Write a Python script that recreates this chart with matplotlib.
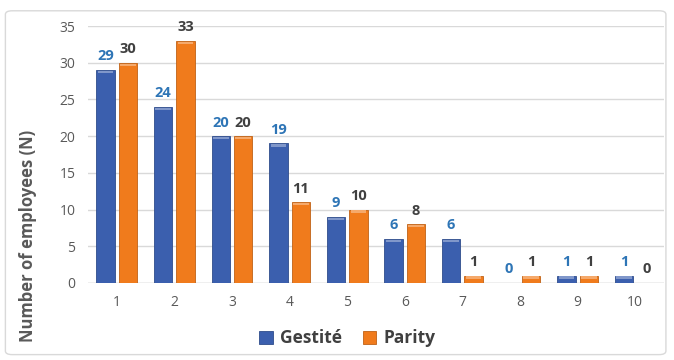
import matplotlib
matplotlib.use("Agg")
import matplotlib.pyplot as plt
import numpy as np
from matplotlib.patches import FancyBboxPatch, Rectangle
from matplotlib.colors import to_rgb

categories = ["1", "2", "3", "4", "5", "6", "7", "8", "9", "10"]
gestite = [29, 24, 20, 19, 9, 6, 6, 0, 1, 1]
parity = [30, 33, 20, 11, 10, 8, 1, 1, 1, 0]
series_names = ["Gestité", "Parity"]
yticks = [0, 5, 10, 15, 20, 25, 30, 35]

blue = "#3B5FAE"
orange = "#F07B1C"
blue_lbl = "#2E75B6"
dark_lbl = "#404040"

plt.rcParams["font.family"] = ["Open Sans", "DejaVu Sans"]

fig = plt.figure(figsize=(6.74, 3.6), dpi=100)
ax = fig.add_axes([88 / 674, 1 - 283 / 360, (664 - 88) / 674, (283 - 26) / 360])

x = np.arange(len(categories))
w = 0.32
off = 0.195


def lighten(c, f):
    r, g, b = to_rgb(c)
    return (r + (1 - r) * f, g + (1 - g) * f, b + (1 - b) * f)


def darken(c, f):
    r, g, b = to_rgb(c)
    return (r * f, g * f, b * f)


def draw_series(xs, vals, color):
    bars = ax.bar(xs, vals, width=w, color=color, edgecolor=darken(color, 0.8),
                  linewidth=0.6, zorder=3)
    for b, v in zip(bars, vals):
        if v <= 0:
            continue
        cap = min(0.45, v * 0.45)
        ax.add_patch(Rectangle((b.get_x() + w * 0.08, v - cap * 0.95), w * 0.84, cap * 0.7,
                               facecolor=lighten(color, 0.35), edgecolor="none", zorder=4))
    return bars


b1 = draw_series(x - off, gestite, blue)
b2 = draw_series(x + off, parity, orange)

for xi, v in zip(x - off, gestite):
    ax.text(xi, v + 0.9, str(v), ha="center", va="bottom", fontsize=10.5,
            fontweight="bold", color=blue_lbl, zorder=5)
for xi, v in zip(x + off, parity):
    ax.text(xi, v + 0.9, str(v), ha="center", va="bottom", fontsize=10.5,
            fontweight="bold", color=dark_lbl, zorder=5)

ax.set_xlim(-0.5, len(categories) - 0.5)
ax.set_ylim(0, 35)
ax.set_yticks(yticks)
ax.set_xticks(x)
ax.set_xticklabels(categories)
ax.tick_params(axis="both", length=0, labelsize=10, colors="#595959", pad=9)
ax.grid(axis="y", color="#D9D9D9", linewidth=1, zorder=0)
ax.set_axisbelow(True)
for s in ax.spines.values():
    s.set_visible(False)
ax.axhline(0, color="#D0D0D0", linewidth=1, zorder=2)

ax.set_ylabel("Number of employees (N)", fontsize=12, fontweight="bold",
              color="#595959")
ax.yaxis.set_label_coords(-0.088, 0.185)

leg = fig.legend([b1, b2], series_names, loc="center", bbox_to_anchor=(0.515, 0.06),
                 ncol=2, frameon=False, fontsize=12.5, handlelength=0.8, handleheight=0.8,
                 columnspacing=1.2, handletextpad=0.4)
for t in leg.get_texts():
    t.set_fontweight("bold")
    t.set_color("#404040")

fig.patches.append(FancyBboxPatch((0.008, 0.015), 0.98, 0.955,
                                  boxstyle="round,pad=0,rounding_size=0.01",
                                  transform=fig.transFigure, facecolor="none",
                                  edgecolor="#D9D9D9", linewidth=1, zorder=0))

fig.savefig("out.png", dpi=100)
